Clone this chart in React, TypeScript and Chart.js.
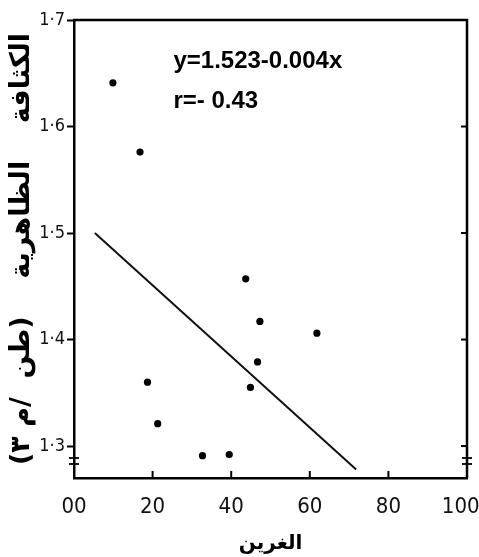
import React, { useEffect, useRef } from "react";
import { Chart, registerables } from "chart.js";

Chart.register(...registerables);

// Data
const SILT = [9.9, 16.8, 18.7, 21.3, 32.7, 39.5, 43.7, 44.9, 46.7, 47.3, 61.8];
const DENSITY = [1.641, 1.576, 1.36, 1.321, 1.291, 1.292, 1.457, 1.355, 1.379, 1.417, 1.406];
const FIT_X = [5.3, 71.8];
const FIT_Y = [1.5, 1.278];

const X_TICKS = [0, 20, 40, 60, 80, 100];
const X_TICK_LABELS = ["00", "20", "40", "60", "80", "100\u00a0\u00a0"];
const Y_TICKS = [1.3, 1.4, 1.5, 1.6, 1.7];
const Y_TICK_LABELS = ["1·3", "1·4", "1·5", "1·6", "1·7"];

const EQUATION_LINES = ["y=1.523-0.004x", "r=- 0.43"];
const X_TITLE = "الغرين";
const Y_TITLE = "الكثافة    الظاهرية    (طن  /م ٣)";

const X_MIN = 0;
const X_MAX = 100;
const Y_MIN = 1.27;
const Y_MAX = 1.7;

// annotation anchor in data units
const ANNOT_X = 25.3;
const ANNOT_Y = [1.655, 1.617];

const frameRenderer = {
  id: "frameRenderer",
  afterDatasetsDraw(chart: any) {
    const { ctx, chartArea, scales } = chart;
    const xs = scales.x;
    const ys = scales.y;
    ctx.save();
    ctx.strokeStyle = "#000";
    ctx.lineCap = "butt";
    // top and right borders
    ctx.lineWidth = 2.5;
    ctx.beginPath();
    ctx.moveTo(chartArea.left - 1, chartArea.top);
    ctx.lineTo(chartArea.right, chartArea.top);
    ctx.lineTo(chartArea.right, chartArea.bottom);
    ctx.stroke();
    // inward ticks on the bottom axis
    ctx.lineWidth = 2;
    X_TICKS.forEach((v) => {
      if (v === X_MIN || v === X_MAX) return;
      const px = xs.getPixelForValue(v);
      ctx.beginPath();
      ctx.moveTo(px, chartArea.bottom);
      ctx.lineTo(px, chartArea.bottom - 7);
      ctx.stroke();
    });
    // inward ticks on the right border
    Y_TICKS.forEach((v) => {
      if (v >= Y_MAX) return;
      const py = ys.getPixelForValue(v);
      ctx.beginPath();
      ctx.moveTo(chartArea.right, py);
      ctx.lineTo(chartArea.right - 6, py);
      ctx.stroke();
    });
    // axis break marks near the bottom of both vertical axes
    ctx.lineWidth = 1.8;
    [chartArea.left, chartArea.right].forEach((ax) => {
      [20, 14].forEach((d) => {
        const py = chartArea.bottom - d;
        ctx.beginPath();
        ctx.moveTo(ax - 5, py);
        ctx.lineTo(ax + 5, py);
        ctx.stroke();
      });
    });
    // regression annotation
    ctx.fillStyle = "#000";
    ctx.font = "bold 24px 'Liberation Sans', Arial, sans-serif";
    ctx.textAlign = "left";
    ctx.textBaseline = "alphabetic";
    EQUATION_LINES.forEach((t, i) => {
      ctx.fillText(t, xs.getPixelForValue(ANNOT_X), ys.getPixelForValue(ANNOT_Y[i]));
    });
    ctx.restore();
  },
};

export default function App() {
  const canvasRef = useRef<HTMLCanvasElement | null>(null);

  useEffect(() => {
    document.body.style.margin = "0";
    document.body.style.background = "#fff";
    const canvas = canvasRef.current;
    if (!canvas) return;
    const chart = new Chart(canvas, {
      type: "scatter",
      data: {
        datasets: [
          {
            label: "points",
            data: SILT.map((x, i) => ({ x, y: DENSITY[i] })),
            backgroundColor: "#000",
            borderColor: "#000",
            borderWidth: 0,
            pointRadius: 3.6,
          },
          {
            type: "line",
            label: "fit",
            data: FIT_X.map((x, i) => ({ x, y: FIT_Y[i] })),
            borderColor: "#111",
            borderWidth: 2,
            pointRadius: 0,
            showLine: true,
            fill: false,
          } as any,
        ],
      },
      options: {
        responsive: false,
        animation: false,
        devicePixelRatio: 1,
        layout: { padding: { top: 20, right: 12, left: 0, bottom: 0 } },
        plugins: {
          legend: { display: false },
          tooltip: { enabled: false },
        },
        scales: {
          x: {
            type: "linear",
            min: X_MIN,
            max: X_MAX,
            afterBuildTicks: (scale: any) => {
              scale.ticks = X_TICKS.map((v) => ({ value: v }));
            },
            afterFit: (scale: any) => {
              scale.height = 79;
              scale.paddingLeft = 0;
              scale.paddingRight = 0;
            },
            ticks: {
              color: "#111",
              padding: 16,
              maxRotation: 0,
              autoSkip: false,
              font: { family: "'DejaVu Sans Condensed', 'DejaVu Sans', sans-serif", size: 22 },
              callback: (v: any) => X_TICK_LABELS[X_TICKS.indexOf(Number(v))] ?? "",
            },
            grid: { display: true, drawOnChartArea: false, drawTicks: false },
            border: { display: true, color: "#000", width: 2.5 },
            title: {
              display: true,
              text: X_TITLE,
              color: "#000",
              padding: { top: 0, bottom: 1 },
              font: { family: "'DejaVu Sans', sans-serif", size: 20, weight: "bold" },
            },
          },
          y: {
            type: "linear",
            min: Y_MIN,
            max: Y_MAX,
            afterBuildTicks: (scale: any) => {
              scale.ticks = Y_TICKS.map((v) => ({ value: v }));
            },
            afterFit: (scale: any) => {
              scale.width = 74;
              scale.paddingTop = 0;
              scale.paddingBottom = 0;
            },
            ticks: {
              color: "#111",
              padding: 2,
              autoSkip: false,
              font: { family: "'DejaVu Sans Condensed', 'DejaVu Sans', sans-serif", size: 18 },
              callback: (v: any) => {
                const i = Y_TICKS.findIndex((t) => Math.abs(t - Number(v)) < 1e-6);
                return i >= 0 ? Y_TICK_LABELS[i] : "";
              },
            },
            grid: { display: true, drawOnChartArea: false, drawTicks: true, tickLength: 7, tickWidth: 2, tickColor: "#000" },
            border: { display: true, color: "#000", width: 2.5 },
            title: {
              display: true,
              text: Y_TITLE,
              color: "#000",
              padding: { top: 6, bottom: 0 },
              font: { family: "'DejaVu Sans', sans-serif", size: 27, weight: "bold" },
            },
          },
        },
      },
      plugins: [frameRenderer],
    });
    return () => chart.destroy();
  }, []);

  return (
    <div style={{ width: 479, height: 557, background: "#fff" }}>
      <canvas ref={canvasRef} width={479} height={557} style={{ display: "block" }} />
    </div>
  );
}
